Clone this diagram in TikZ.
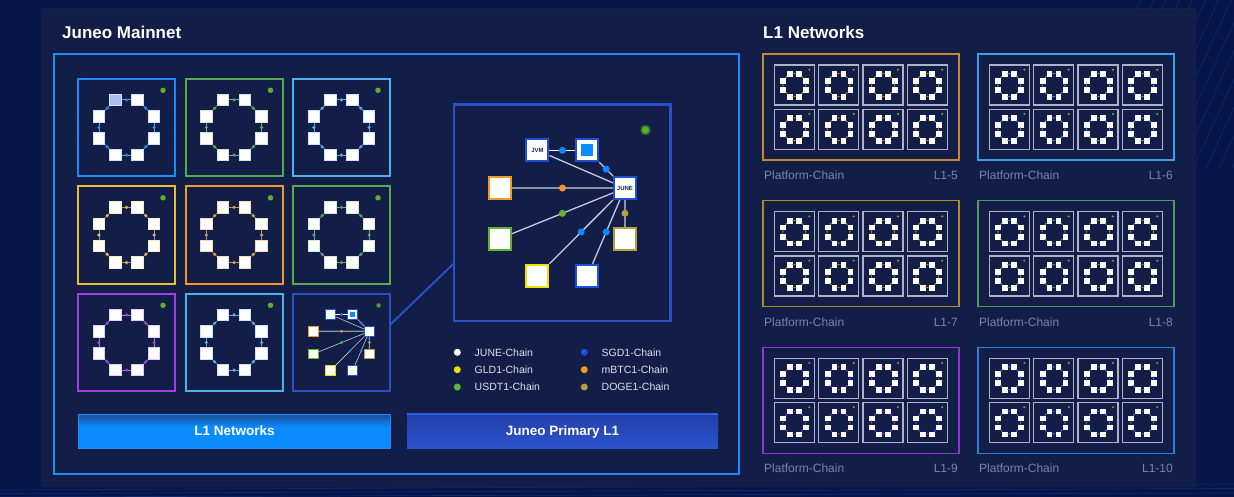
\documentclass[tikz,border=0pt]{standalone}
\usepackage{fontspec}
\setmainfont{Liberation Sans}
\usetikzlibrary{positioning}

\definecolor{bgnavy}{HTML}{06154A}
\definecolor{panelnavy}{HTML}{131E48}
\definecolor{panelrim}{HTML}{1C2C5E}
\definecolor{bgline}{HTML}{12296A}
\definecolor{frameblue}{HTML}{1E8AF5}
\definecolor{blueA}{HTML}{1A8CFF}
\definecolor{greenA}{HTML}{5AA84C}
\definecolor{skyA}{HTML}{4EB0EE}
\definecolor{yellowA}{HTML}{E6C030}
\definecolor{orangeA}{HTML}{F29A24}
\definecolor{purpleA}{HTML}{A33DE6}
\definecolor{navyA}{HTML}{2B4FC4}
\definecolor{tintblue}{HTML}{CFE2FA}
\definecolor{tintgreen}{HTML}{D3EACB}
\definecolor{tintyellow}{HTML}{FAEDC2}
\definecolor{tintorange}{HTML}{FBD9B2}
\definecolor{tintpurple}{HTML}{E6CBF7}
\definecolor{selblue}{HTML}{A8C0EE}
\definecolor{edgegrey}{HTML}{8C96B8}
\definecolor{livegreen}{HTML}{5DB02C}
\definecolor{livering}{HTML}{2E6B2C}
\definecolor{chainblue}{HTML}{1E4FDC}
\definecolor{skyblue}{HTML}{0A8CFF}
\definecolor{mbtcorange}{HTML}{F39A22}
\definecolor{usdtgreen}{HTML}{62B32E}
\definecolor{dogegold}{HTML}{B79F3E}
\definecolor{gldyellow}{HTML}{EEE000}
\definecolor{sgdblue}{HTML}{1A4FE0}
\definecolor{linkgrey}{HTML}{C6CADA}
\definecolor{linkdark}{HTML}{8C92AA}
\definecolor{navytext}{HTML}{1A2450}
\definecolor{legendtext}{HTML}{DDE1EC}
\definecolor{labelgrey}{HTML}{7A84A8}
\definecolor{minirim}{HTML}{AEB2C6}
\definecolor{panelA}{HTML}{C8862E}
\definecolor{panelB}{HTML}{3B9DE6}
\definecolor{panelC}{HTML}{A88E2C}
\definecolor{panelD}{HTML}{4E9A5C}
\definecolor{panelE}{HTML}{8E36D0}
\definecolor{panelF}{HTML}{2B7FDA}
\definecolor{btnbright}{HTML}{0A8CFF}
\definecolor{btndark}{HTML}{1C4C90}
\definecolor{btnrim}{HTML}{2A86F0}
\definecolor{primtop}{HTML}{3060DC}
\definecolor{primlight}{HTML}{2C54CC}
\definecolor{primdark}{HTML}{213FA8}

\pgfdeclareverticalshading{btnblue}{100bp}{color(0bp)=(btnbright); color(25bp)=(btnbright); color(56bp)=(btnbright); color(75bp)=(btndark); color(100bp)=(btndark)}
\pgfdeclareverticalshading{btnprim}{100bp}{color(0bp)=(primlight); color(25bp)=(primlight); color(75bp)=(primdark); color(100bp)=(primdark)}

\tikzset{
  pics/ring/.style n args={3}{code={%
    % #1 square rim, #2 link colour, #3 link dot colour
    \begin{scope}[every node/.append style={transform shape}]
      \foreach \k/\px/\py in {1/37.5/20.9, 2/59.5/20.9, 3/76.1/37.5, 4/76.1/59.5,
                              5/59.5/76.1, 6/37.5/76.1, 7/20.9/59.5, 8/20.9/37.5}
        \node[ringsq, draw=#1] (-s\k) at (\px,\py) {};
      \foreach \a/\b in {1/2, 2/3, 3/4, 4/5, 5/6, 6/7, 7/8, 8/1}
        \draw[ringedge, draw=#2] (-s\a) -- node[ringdot, fill=#3] {} (-s\b);
      \node[live] (-live) at (85,11.3) {};
    \end{scope}
  }},
  pics/star/.style n args={3}{code={%
    % #1 JVM label, #2 JUNE label, #3 line factor
    \begin{scope}[every node/.append style={transform shape},
                  chain/.append style={line width=#3*2pt}]
      \node[chain, draw=chainblue] (-jvm) at (83.5,45.8) {#1};
      \node[chain, draw=chainblue] (-sgd) at (133.5,45.8) {};
      \node[fill=skyblue, minimum size=12pt, inner sep=0pt] (-sgdcore) at (133.5,45.8) {};
      \node[chain, draw=chainblue] (-june) at (171,83.5) {#2};
      \node[chain, draw=mbtcorange] (-mbtc) at (46,83.5) {};
      \node[chain, draw=usdtgreen] (-usdt) at (46,134) {};
      \node[chain, draw=dogegold] (-doge) at (171,134) {};
      \node[chain, draw=gldyellow] (-gld) at (83.5,171.3) {};
      \node[chain, draw=sgdblue] (-sgdb) at (133.5,171.3) {};
      \draw[white, line width=#3*1.3pt] (-jvm) -- node[edot, fill=skyblue] {} (-sgd);
      \draw[linkgrey, line width=#3*1.3pt] (-sgd) -- node[edot, fill=skyblue] {} (-june);
      \draw[linkgrey, line width=#3*1.3pt] (-jvm) -- (-june);
      \draw[linkdark, line width=#3*2.6pt] (-mbtc) -- node[edot, fill=mbtcorange] {} (-june);
      \draw[linkgrey, line width=#3*1.3pt] (-usdt) -- node[edot, fill=usdtgreen] {} (-june);
      \draw[linkgrey, line width=#3*1.3pt] (-gld) -- node[edot, fill=skyblue] {} (-june);
      \draw[linkgrey, line width=#3*1.3pt] (-sgdb) -- node[edot, fill=skyblue] {} (-june);
      \draw[linkdark, line width=#3*2pt] (-june) -- node[edot, fill=dogegold] {} (-doge);
      \node[live, minimum size=9pt, draw=livering, line width=#3*1.5pt] (-live) at (191.5,25.5) {};
    \end{scope}
  }}
}

\begin{document}
\begin{tikzpicture}[x=1pt, y=-1pt,
    ringsq/.style={fill=white, line width=.8pt, minimum size=11.5pt, inner sep=0pt},
    ringedge/.style={line width=.8pt},
    ringdot/.style={circle, pos=.5, inner sep=0pt, minimum size=3.4pt},
    live/.style={circle, fill=livegreen, inner sep=0pt, minimum size=5.5pt},
    chain/.style={draw, fill=white, minimum size=22pt, inner sep=0pt,
      font=\fontsize{6}{6}\selectfont\bfseries, text=navytext},
    edot/.style={circle, pos=.5, inner sep=0pt, minimum size=7pt},
    boxframe/.style={draw, line width=2pt, minimum size=97pt, inner sep=0pt, outer sep=0pt},
    minibox/.style={draw=minirim, line width=1.4pt, minimum size=40pt, inner sep=0pt, outer sep=0pt},
    l1panel/.style={draw, line width=1.4pt, minimum width=196pt, minimum height=106pt, inner sep=0pt},
    title/.style={text=white, font=\fontsize{17}{20}\selectfont\bfseries, inner sep=0pt},
    plabel/.style={text=labelgrey, font=\fontsize{12}{14}\selectfont, inner sep=0pt},
    legdot/.style={circle, inner sep=0pt, minimum size=7pt},
    legtext/.style={text=legendtext, font=\fontsize{10.5}{12}\selectfont, inner sep=0pt,
      text height=7.5pt, text depth=0pt},
    btn/.style={text=white, font=\fontsize{13.5}{16}\selectfont\bfseries,
      text height=9.7pt, text depth=0pt, inner sep=0pt, minimum height=34pt}]

  \useasboundingbox (0,0) rectangle (1234,497);
  \fill[bgnavy] (0,0) rectangle (1234,497);
  % faint background strokes
  \begin{scope}
    \clip (1090,0) rectangle (1234,170);
    \foreach \k in {0,...,14}
      \draw[bgline, line width=.7pt] (1060+\k*13,175) -- ++(85,-185);
  \end{scope}
  \foreach \k in {0,...,3}
    \draw[bgline, line width=.7pt] (0,490+\k*3.5) -- (1234,484+\k*4.5);

  \draw[panelrim, fill=panelnavy, rounded corners=2pt] (41,8.5) rectangle (1196,487);

  % Juneo Mainnet
  \node[title, anchor=base west] (mainnet) at (62,38.3) {Juneo Mainnet};
  \draw[frameblue, line width=2pt] (53.5,54.5) rectangle (739,474);

  \foreach \i/\gx/\gy/\fc/\sc/\dc in {1/78/79/blueA/tintblue/blueA,
      2/185.5/79/greenA/tintgreen/greenA, 3/293/79/skyA/tintblue/skyA,
      4/78/186.5/yellowA/tintyellow/yellowA, 5/185.5/186.5/orangeA/tintorange/orangeA,
      6/293/186.5/greenA/tintgreen/greenA, 7/78/294/purpleA/tintpurple/purpleA,
      8/185.5/294/skyA/tintblue/skyA} {
    \node[boxframe, draw=\fc] (box\i) at (\gx+48.5,\gy+48.5) {};
    \pic (r\i) at (box\i.north west) {ring={\sc}{edgegrey}{\dc}};
  }
  \node[ringsq, draw=tintblue, fill=selblue] (r1-sel) at (r1-s1) {};

  % the primary L1, small and zoomed
  \node[boxframe, draw=navyA] (box9) at (293+48.5,294+48.5) {};
  \pic[scale=.447] (mini) at (box9.north west) {star={}{}{.45}};
  \node[boxframe, draw=navyA, line width=2.5pt, minimum size=216.5pt] (zoombox) at (562.2,212.8) {};
  \pic (big) at (zoombox.north west) {star={JVM}{JUNE}{1}};
  \draw[navyA, line width=2pt] (box9.20) -- (zoombox.205);

  % legend
  \foreach \k/\lx/\ly/\dc/\txt in {1/457.3/352.3/white/JUNE-Chain,
      2/457.3/369.7/gldyellow/GLD1-Chain, 3/457.3/387/usdtgreen/USDT1-Chain,
      4/584.3/352.3/sgdblue/SGD1-Chain, 5/584.3/369.7/mbtcorange/mBTC1-Chain,
      6/584.3/387/dogegold/DOGE1-Chain} {
    \node[legdot, fill=\dc] (key\k) at (\lx,\ly) {};
    \node[legtext, anchor=west, right=13.5pt of key\k] (keytext\k) {\txt};
  }

  % buttons
  \node[btn, shading=btnblue, draw=btnrim, line width=1pt, minimum width=312pt] (l1btn) at (234.5,431) {L1 Networks};
  \node[btn, shading=btnprim, minimum width=311pt] (primbtn) at (562.5,431) {Juneo Primary L1};
  \draw[primtop, line width=2.5pt] (primbtn.north west) -- (primbtn.north east);

  % L1 Networks
  \node[title, anchor=base west] (l1title) at (763,38.3) {L1 Networks};
  \foreach \p/\px/\py/\pc/\lbl in {5/763/54/panelA/L1-5, 6/978/54/panelB/L1-6,
      7/763/200.7/panelC/L1-7, 8/978/200.7/panelD/L1-8,
      9/763/347.3/panelE/L1-9, 10/978/347.3/panelF/L1-10} {
    \node[l1panel, draw=\pc] (net\p) at (\px+98,\py+53) {};
    \foreach \c in {0,...,3}
      \foreach \r in {0,1} {
        \node[minibox] (net\p-\c\r) at (\px+31.3+\c*44.3,\py+31+\r*44.3) {};
        \pic[scale=.4124, ringedge/.append style={line width=.5pt},
             ringsq/.append style={line width=.2pt}]
          (ring\p-\c\r) at (net\p-\c\r.north west) {ring={white}{\pc}{\pc}};
      }
    \node[plabel, anchor=base west] (chain\p) at (\px+1,\py+125.3) {Platform-Chain};
    \node[plabel, anchor=base east] (id\p) at (\px+195,\py+125.3) {\lbl};
  }
\end{tikzpicture}
\end{document}
